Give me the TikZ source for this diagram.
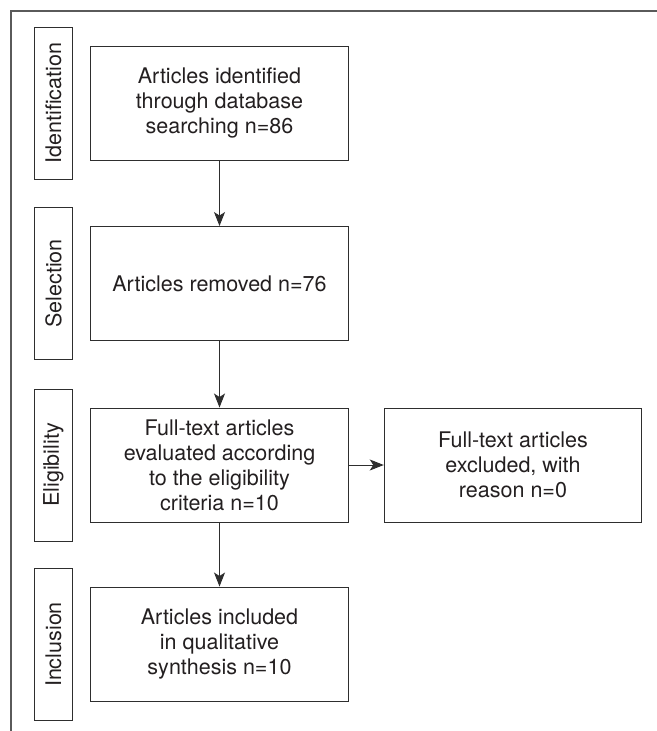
\documentclass[tikz,border=0pt]{standalone}
\usepackage{fontspec}
\setmainfont{TeX Gyre Heros}
\setsansfont{TeX Gyre Heros}
\usetikzlibrary{arrows.meta, positioning}
\definecolor{cline}{HTML}{2E2E2E}
\definecolor{cframe}{HTML}{5A5A5A}
\definecolor{ctext}{HTML}{231F20}
\tikzset{
  every picture/.style={font=\sffamily\fontsize{21.6}{25.2}\selectfont, line width=0.95pt},
  stage/.style={draw=cline, text=ctext, align=center, minimum width=257.5bp, minimum height=114bp, inner sep=2pt},
  phase/.style={draw=cline, text=ctext, rotate=90, minimum width=152bp, minimum height=38.5bp, inner sep=0pt},
  arrow/.style={-{Stealth[length=14bp, width=11bp, inset=3.5bp]}, draw=cline, line width=0.95pt},
  frameline/.style={draw=cframe, line width=1.3pt},
}

\begin{document}
\begin{tikzpicture}[x=1bp, y=-1bp]
  \useasboundingbox (0,0) rectangle (657,731);
  % outer frame, top and left only
  \draw[frameline] (11,731) -- (11,11) -- (657,11);
  % phase labels
  \node[phase] (pid)  at (53.5,103)   {Identification};
  \node[phase] (psel) at (53.5,283.5) {Selection};
  \node[phase] (pel)  at (53.5,465)   {Eligibility};
  \node[phase] (pinc) at (53.5,644.5) {Inclusion};
  % flow boxes
  \node[stage] (found)    at (219.5,103)   {Articles identified\\through database\\searching n=86};
  \node[stage] (removed)  at (219.5,283.5) {Articles removed n=76};
  \node[stage] (full)     at (219.5,465)   {Full-text articles\\evaluated according\\to the eligibility\\criteria n=10};
  \node[stage] (excluded) at (513,465)     {Full-text articles\\excluded, with\\reason n=0};
  \node[stage] (included) at (219.5,644)   {Articles included\\in qualitative\\synthesis n=10};
  \draw[arrow] (found) -- (removed);
  \draw[arrow] (removed) -- (full);
  \draw[arrow] (full) -- (included);
  \draw[arrow] (full) -- (excluded);
\end{tikzpicture}
\end{document}
